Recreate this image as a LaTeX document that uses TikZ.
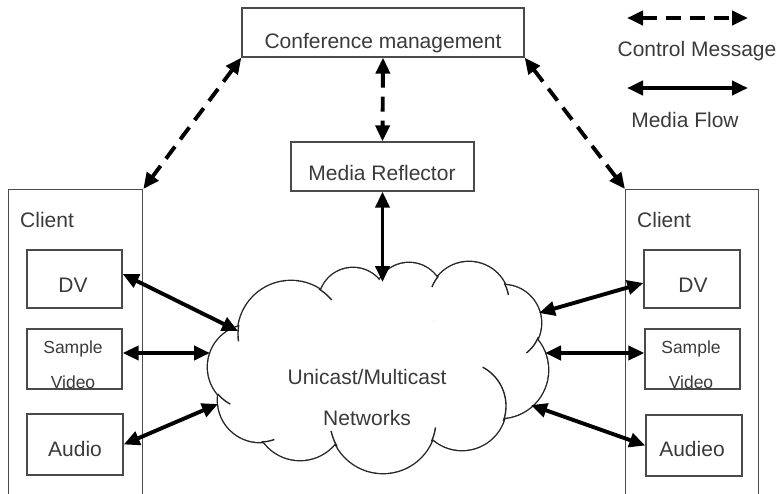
\documentclass[tikz,border=0pt]{standalone}
\usepackage{fontspec}
\setmainfont{Liberation Sans}
\usetikzlibrary{arrows.meta,calc}
\definecolor{txt}{HTML}{3A3A3A}
\definecolor{edge}{HTML}{4A4A4A}
\begin{document}
\begin{tikzpicture}[x=1pt,y=-1pt,
  box/.style={draw=edge, line width=1.3pt, inner sep=0pt},
  lbl/.style={text=txt, font=\fontsize{21}{25}\selectfont, anchor=base, inner sep=0pt},
  sml/.style={text=txt, font=\fontsize{17.5}{21}\selectfont, anchor=base, inner sep=0pt},
  media/.style={line width=3.9pt, {Triangle[length=16pt,width=14pt]}-{Triangle[length=16pt,width=14pt]}},
  ctrl/.style={media, dash pattern=on 15pt off 9pt},
  puff/.style={line width=2.8pt, draw=black!85},
  tail/.style={line width=1.4pt, draw=black!85},
]
\useasboundingbox (0,0) rectangle (781,493);
\clip (0,0) rectangle (781,493);

% cloud
\foreach \cx/\cy/\r in {291/334/53,353/302/34,409/297/34,469/302/40,503/323/38,500/370/48,462/406/44,383/420/53,300/415/45,260/400/42,250/367/42}
  \draw[puff] (\cx,\cy) circle[radius=\r pt];
\foreach \cx/\cy/\r in {291/334/53,353/302/34,409/297/34,469/302/40,503/323/38,500/370/48,462/406/44,383/420/53,300/415/45,260/400/42,250/367/42}
  \fill[white] (\cx,\cy) circle[radius=\r pt];
\fill[white] (378,370) ellipse[x radius=125pt, y radius=55pt];
\foreach \cx/\cy/\r/\a/\b in {291/334/53/190/172, 291/334/53/-58/-40, 469/302/40/-140/-158, 469/302/40/-28/-10, 503/323/38/22/52, 462/406/44/20/-62, 383/420/53/24/8, 383/420/53/150/168, 260/400/42/88/70, 250/367/42/140/118}
  \draw[tail] plot[domain=\a:\b, samples=14, smooth] ({\cx+\r*cos(\x)},{\cy+\r*sin(\x)});

\coordinate (ct) at (382.5,282);
\coordinate (cl1) at (238,331);
\coordinate (cl2) at (210,353);
\coordinate (cl3) at (218,404);
\coordinate (cr1) at (539,313);
\coordinate (cr2) at (545,353);
\coordinate (cr3) at (531,405);

% boxes
\node[box, minimum width=282pt, minimum height=49pt] (conf) at (383,32.5) {};
\node[box, minimum width=183pt, minimum height=49pt] (mr) at (382.5,166.5) {};
\node[box, minimum width=134pt, minimum height=330pt, anchor=north west] (lcl) at (8,189) {};
\node[box, minimum width=133pt, minimum height=330pt, anchor=north west] (rcl) at (625,189) {};
\node[box, minimum width=95pt, minimum height=58pt] (ldv) at (74.5,279) {};
\node[box, minimum width=95pt, minimum height=60pt] (lsv) at (74.5,359) {};
\node[box, minimum width=96pt, minimum height=61pt] (lau) at (75,444.5) {};
\node[box, minimum width=96pt, minimum height=58pt] (rdv) at (692,279) {};
\node[box, minimum width=95pt, minimum height=60pt] (rsv) at (692.5,359) {};
\node[box, minimum width=96pt, minimum height=61pt] (rau) at (694,445.5) {};

% legend
\coordinate (lc1) at (627,18);
\coordinate (lc2) at (748,18);
\coordinate (lm1) at (627,88);
\coordinate (lm2) at (748,88);
\draw[ctrl] (lc1) -- (lc2);
\draw[media] (lm1) -- (lm2);

% connectors
\draw[ctrl] (conf.south west) -- (lcl.north east);
\draw[ctrl] (conf.south east) -- (rcl.north west);
\draw[ctrl] (conf.south) -- (mr.north);
\draw[media] (mr.south) -- (ct);
\draw[media] ([yshift=5pt]ldv.east) -- (cl1);
\draw[media] ([yshift=6pt]lsv.east) -- (cl2);
\draw[media] (lau.east) -- (cl3);
\draw[media] ([yshift=-4pt]rdv.west) -- (cr1);
\draw[media] ([yshift=6pt]rsv.west) -- (cr2);
\draw[media] (rau.west) -- (cr3);

% texts
\node[lbl] (tconf) at (383,48.5) {Conference management};
\node[lbl] (tmr) at (382,180) {Media Reflector};
\node[lbl] (tcm) at (697,56) {Control Message};
\node[lbl] (tmf) at (685,127) {Media Flow};
\node[lbl, anchor=base west] (tlc) at (20,227.5) {Client};
\node[lbl, anchor=base west] (trc) at (637,227.5) {Client};
\node[lbl] (tldv) at (73,292.5) {DV};
\node[sml] (tls) at (73,353) {Sample};
\node[sml] (tlv) at (73,388) {Video};
\node[lbl] (tla) at (75,456.5) {Audio};
\node[lbl] (trdv) at (693,292.5) {DV};
\node[sml] (trs) at (691,353) {Sample};
\node[sml] (trv) at (691,388) {Video};
\node[lbl] (tra) at (692,456.5) {Audieo};
\node[lbl] (tnet1) at (367,384.5) {Unicast/Multicast};
\node[lbl] (tnet2) at (367,425) {Networks};
\end{tikzpicture}
\end{document}
